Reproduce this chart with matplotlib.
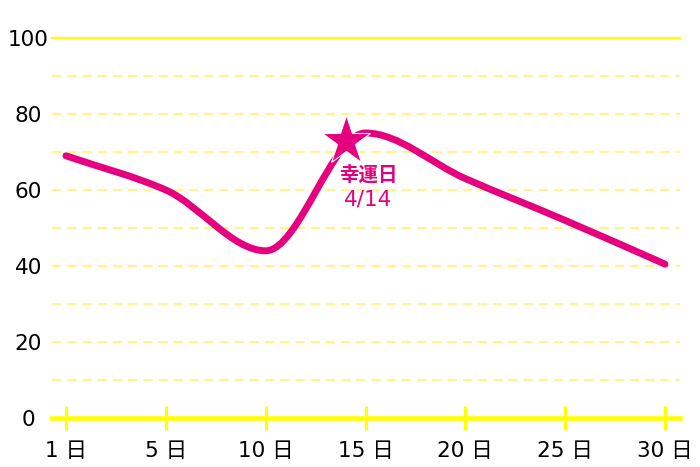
import matplotlib
matplotlib.use("Agg")
import matplotlib.pyplot as plt
import numpy as np
from matplotlib.path import Path
from matplotlib.patches import PathPatch

plt.rcParams['font.family'] = ['DejaVu Sans', 'Noto Sans CJK JP']

days = ["1", "5", "10", "15", "20", "25", "30"]
values = [69, 60, 44, 75, 63, 52, 40.5]
lucky_title = "幸運日"
lucky_date = "4/14"
lucky_pos = 2.8
lucky_value = 73
y_ticks = [0, 20, 40, 60, 80, 100]

PINK = "#E6007E"
YELLOW = "#FFFF00"
LIGHT_YELLOW = "#FFF58A"

fig = plt.figure(figsize=(7.0, 4.67), dpi=100)
ax = fig.add_axes([52/700, 1-418/467, 628/700, 380/467])
x = np.arange(len(days))
ax.set_xlim(-0.14, 6.15)
ax.set_ylim(0, 100)

# grid
for g in range(10, 100, 10):
    ax.axhline(g, color=LIGHT_YELLOW, lw=1.5, ls=(0, (4.5, 2.8)), zorder=1)
ax.axhline(100, color=YELLOW, lw=1.6, zorder=1, clip_on=False)

for s in ['top', 'right', 'left']:
    ax.spines[s].set_visible(False)
ax.spines['bottom'].set_color(YELLOW)
ax.spines['bottom'].set_linewidth(3.3)

# monotone cubic (Fritsch-Carlson) drawn as Bezier path
xs = x.astype(float)
ys = np.array(values, dtype=float)
h = np.diff(xs)
d = np.diff(ys) / h
m = np.zeros_like(ys)
m[0] = d[0]
m[-1] = d[-1]
for i in range(1, len(ys) - 1):
    if d[i-1] * d[i] <= 0:
        m[i] = 0
    else:
        m[i] = 2 / (1/d[i-1] + 1/d[i])
verts = [(xs[0], ys[0])]
codes = [Path.MOVETO]
for i in range(len(xs) - 1):
    verts += [(xs[i] + h[i]/3, ys[i] + m[i]*h[i]/3),
              (xs[i+1] - h[i]/3, ys[i+1] - m[i+1]*h[i]/3),
              (xs[i+1], ys[i+1])]
    codes += [Path.CURVE4] * 3
ax.add_patch(PathPatch(Path(verts, codes), fill=False, edgecolor=PINK,
                       lw=5, capstyle='round', joinstyle='round', zorder=3))

ax.plot([lucky_pos], [lucky_value], marker='*', ms=37, color=PINK,
        mec='white', mew=0.8, zorder=4, clip_on=False)
ax.text(lucky_pos + 0.23, 63.8, lucky_title, color=PINK,
        fontsize=14, fontweight='bold', ha='center', va='center', zorder=5)
ax.text(lucky_pos + 0.23, 57.6, lucky_date, color=PINK,
        fontsize=15.5, ha='center', va='center', zorder=5)

ax.set_xticks(x)
ax.set_xticklabels([f"{d} 日" for d in days], fontsize=15.5)
ax.tick_params(axis='x', direction='inout', length=17, width=2.2, color=YELLOW, pad=8)
ax.set_yticks(y_ticks)
ax.set_yticklabels([str(v) for v in y_ticks], fontsize=15.5, ha='center')
ax.tick_params(axis='y', length=0, pad=17)

fig.savefig("out.png", dpi=100)
